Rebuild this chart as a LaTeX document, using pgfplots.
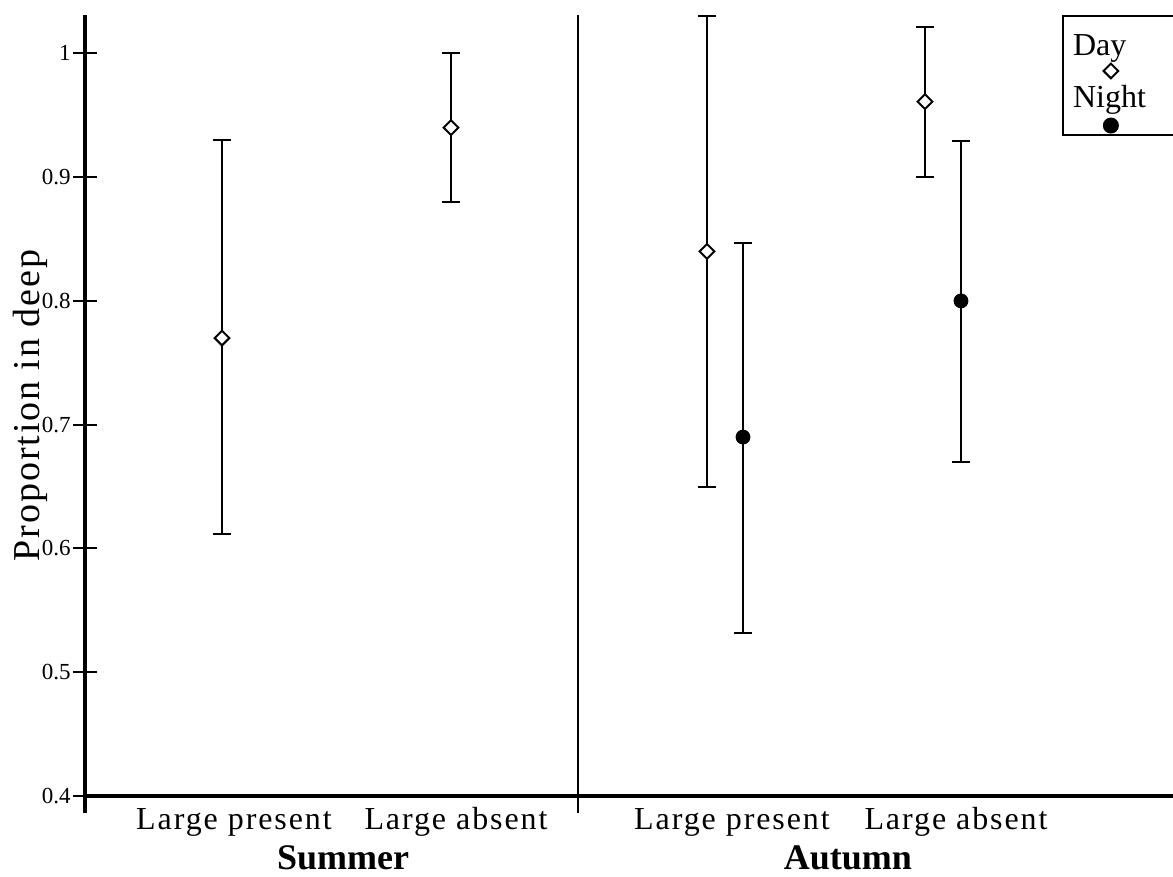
\documentclass[border=0pt]{standalone}
\usepackage{fontspec}
\setmainfont{Liberation Serif}
\usepackage{pgfplots}
\pgfplotsset{compat=1.18}
\usepackage{pgfplotstable}

\pgfplotsset{
  offsetlegend/.style 2 args={legend image code/.code={%
    \begin{pgfinterruptboundingbox}
      \draw[##1] plot coordinates {(-20pt,#1)};
    \end{pgfinterruptboundingbox}
    \path (0pt,#2) (14pt,3pt);}},
}

\pgfplotstableread{
x y ep em
137 0.770 0.160 0.158
366 0.940 0.060 0.060
622 0.840 0.190 0.190
840 0.961 0.060 0.061
}\daydata
\pgfplotstableread{
x y ep em
658 0.690 0.157 0.158
876 0.800 0.129 0.130
}\nightdata

\begin{document}
\begin{tikzpicture}
\useasboundingbox (-42.5pt,-40.5pt) rectangle (544pt,398pt);
\begin{axis}[
  at={(0pt,0pt)}, anchor=south west,
  scale only axis, width=544pt, height=390.5pt,
  xmin=0, xmax=1088, ymin=0.4, ymax=1.031,
  axis lines=left, axis line style={-, line width=2pt},
  clip=false,
  ytick={0.4,0.5,0.6,0.7,0.8,0.9,1},
  yticklabels={0.4,0.5,0.6,0.7,0.8,0.9,1},
  tick align=center, major tick length=12pt,
  y tick style={line width=1pt, black},
  xtick={149,371,647,871},
  xticklabels={Large present, Large absent, Large present, Large absent},
  x tick style={draw=none},
  xticklabel style={font=\fontsize{16}{18}\selectfont\addfontfeature{LetterSpace=6}, anchor=base, yshift=-11pt},
  yticklabel style={font=\fontsize{11.5}{13}\selectfont, inner sep=1pt},
  ylabel={Proportion in deep},
  ylabel style={font=\fontsize{19}{21}\selectfont\addfontfeature{LetterSpace=5}, at={(axis description cs:-0.0506,0.5)}, anchor=center},
  legend plot pos=right,
  legend style={at={(axis cs:977,1.031)}, anchor=north west, draw=black, line width=1pt,
    fill=white, font=\fontsize{16}{18}\selectfont, inner xsep=3pt, inner ysep=7.5pt,
    row sep=9pt, cells={anchor=west}},
]
\addplot[only marks, mark=square*, mark size=2.6pt,
  mark options={rotate=45, fill=white, draw=black, line width=1pt},
  offsetlegend={-12pt}{-3pt},
  error bars/.cd, y dir=both, y explicit,
  error bar style={line width=1pt, black},
  error mark options={rotate=90, mark size=4.5pt, line width=1pt, black}]
  table[x=x, y=y, y error plus=ep, y error minus=em] {\daydata};
\addlegendentry{Day}
\addplot[only marks, mark=*, mark size=3.5pt,
  mark options={fill=black, draw=black},
  offsetlegend={-14pt}{-10.5pt},
  error bars/.cd, y dir=both, y explicit,
  error bar style={line width=1pt, black},
  error mark options={rotate=90, mark size=4.5pt, line width=1pt, black}]
  table[x=x, y=y, y error plus=ep, y error minus=em] {\nightdata};
\addlegendentry{Night}
\draw[line width=1pt] (axis cs:493,0.4) ++(0pt,-8.5pt) -- (axis cs:493,1.031);
\draw[line width=2pt] (axis cs:0,0.4) -- ++(0pt,-8.5pt);
\node[anchor=base, yshift=-37pt, font=\bfseries\fontsize{18}{20}\selectfont] at (axis cs:258,0.4) {Summer};
\node[anchor=base, yshift=-37pt, font=\bfseries\fontsize{18}{20}\selectfont] at (axis cs:763,0.4) {Autumn};
\end{axis}
\end{tikzpicture}
\end{document}
